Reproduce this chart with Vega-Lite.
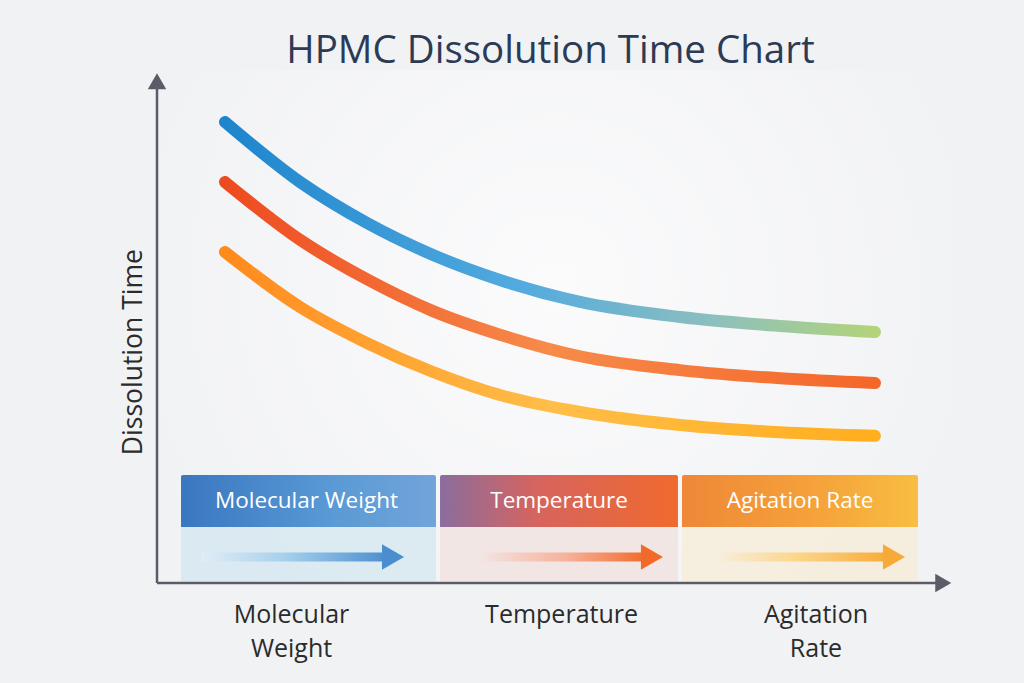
{
  "$schema": "https://vega.github.io/schema/vega-lite/v6.json",
  "width": 795,
  "height": 513,
  "autosize": {"type": "none"},
  "padding": {"left": 157, "top": 70, "right": 72, "bottom": 100},
  "background": "#F1F2F4",
  "config": {
    "font": "Open Sans",
    "view": {"stroke": null, "fill": {"gradient": "radial", "x1": 0.5, "y1": 0.45, "r1": 0, "x2": 0.5, "y2": 0.45, "r2": 0.55, "stops": [{"offset": 0, "color": "#FBFBFC"}, {"offset": 1, "color": "#F1F2F4"}]}}
  },
  "resolve": {"scale": {"color": "independent"}},
  "title": {
    "text": "HPMC Dissolution Time Chart",
    "font": "Open Sans",
    "fontSize": 38.5,
    "fontWeight": 500,
    "color": "#2D3A55",
    "anchor": "middle",
    "baseline": "alphabetic",
    "offset": 7,
    "dx": -4,
    "dy": 38
  },
  "datasets": {
    "curves": [
      {"series": "A", "x": 8.55, "y": 89.86},
      {"series": "A", "x": 17.99, "y": 78.17},
      {"series": "A", "x": 26.42, "y": 70.18},
      {"series": "A", "x": 34.72, "y": 63.94},
      {"series": "A", "x": 43.14, "y": 59.06},
      {"series": "A", "x": 53.21, "y": 54.78},
      {"series": "A", "x": 65.79, "y": 51.85},
      {"series": "A", "x": 78.36, "y": 50.1},
      {"series": "A", "x": 90.31, "y": 48.93},
      {"series": "B", "x": 8.55, "y": 78.17},
      {"series": "B", "x": 17.99, "y": 66.9},
      {"series": "B", "x": 26.42, "y": 59.2},
      {"series": "B", "x": 34.72, "y": 53.0},
      {"series": "B", "x": 43.14, "y": 48.4},
      {"series": "B", "x": 53.21, "y": 44.2},
      {"series": "B", "x": 65.79, "y": 41.5},
      {"series": "B", "x": 78.36, "y": 39.9},
      {"series": "B", "x": 90.31, "y": 38.99},
      {"series": "C", "x": 8.55, "y": 64.52},
      {"series": "C", "x": 17.99, "y": 53.8},
      {"series": "C", "x": 26.42, "y": 46.78},
      {"series": "C", "x": 34.72, "y": 41.13},
      {"series": "C", "x": 43.14, "y": 36.65},
      {"series": "C", "x": 53.21, "y": 33.33},
      {"series": "C", "x": 65.79, "y": 30.8},
      {"series": "C", "x": 78.36, "y": 29.4},
      {"series": "C", "x": 90.31, "y": 28.7}
    ],
    "factors": [
      {"factor": "Molecular Weight", "label": "Molecular\nWeight", "x0": 3.02, "x1": 35.09, "mid": 18.8, "a0": 5.53, "a1": 29.0, "ah": 29.69, "lx": 16.92},
      {"factor": "Temperature", "label": "Temperature", "x0": 35.6, "x1": 65.53, "mid": 50.57, "a0": 40.88, "a1": 61.6, "ah": 62.26, "lx": 50.89},
      {"factor": "Agitation Rate", "label": "Agitation\nRate", "x0": 66.04, "x1": 95.72, "mid": 80.88, "a0": 70.94, "a1": 92.0, "ah": 92.7, "lx": 82.89}
    ],
    "axes": [
      {"axis": "x", "x0": 0, "x1": 98.2, "y0": 0, "y1": 0, "hx": 98.9, "hy": 0, "shape": "triangle-right"},
      {"axis": "y", "x0": 0, "x1": 0, "y0": 0, "y1": 96.5, "hx": 0, "hy": 97.8, "shape": "triangle-up"}
    ],
    "ytitle": [{"text": "Dissolution Time", "x": -2.9, "y": 45.0}]
  },
  "layer": [
    {
      "data": {"name": "factors"},
      "mark": {"type": "rect", "opacity": 0.85},
      "encoding": {
        "x": {"field": "x0", "type": "quantitative", "scale": {"domain": [0, 100]}, "axis": null},
        "x2": {"field": "x1"},
        "y": {"datum": 0.3, "type": "quantitative", "scale": {"domain": [0, 100]}, "axis": null},
        "y2": {"datum": 10.92},
        "color": {"field": "factor", "type": "nominal", "legend": null, "scale": {"domain": ["Molecular Weight", "Temperature", "Agitation Rate"], "range": ["#D7E7F1", "#F1E3E1", "#F6ECD9"]}}
      }
    },
    {
      "data": {"name": "factors"},
      "transform": [{"filter": "datum.factor === 'Molecular Weight'"}],
      "mark": {"type": "rect", "cornerRadiusTopLeft": 2, "cornerRadiusTopRight": 2, "fill": {"gradient": "linear", "x1": 0, "y1": 0, "x2": 1, "y2": 0, "stops": [{"offset": 0, "color": "#3A77C1"}, {"offset": 0.6, "color": "#5A9AD5"}, {"offset": 1, "color": "#72A4DA"}]}},
      "encoding": {
        "x": {"field": "x0", "type": "quantitative", "scale": {"domain": [0, 100]}, "axis": null},
        "x2": {"field": "x1"},
        "y": {"datum": 10.92, "type": "quantitative", "scale": {"domain": [0, 100]}, "axis": null},
        "y2": {"datum": 21.05}
      }
    },
    {
      "data": {"name": "factors"},
      "transform": [{"filter": "datum.factor === 'Temperature'"}],
      "mark": {"type": "rect", "cornerRadiusTopLeft": 2, "cornerRadiusTopRight": 2, "fill": {"gradient": "linear", "x1": 0, "y1": 0, "x2": 1, "y2": 0, "stops": [{"offset": 0, "color": "#8A6D9E"}, {"offset": 0.4, "color": "#D6645F"}, {"offset": 1, "color": "#F06A2E"}]}},
      "encoding": {
        "x": {"field": "x0", "type": "quantitative", "scale": {"domain": [0, 100]}, "axis": null},
        "x2": {"field": "x1"},
        "y": {"datum": 10.92, "type": "quantitative", "scale": {"domain": [0, 100]}, "axis": null},
        "y2": {"datum": 21.05}
      }
    },
    {
      "data": {"name": "factors"},
      "transform": [{"filter": "datum.factor === 'Agitation Rate'"}],
      "mark": {"type": "rect", "cornerRadiusTopLeft": 2, "cornerRadiusTopRight": 2, "fill": {"gradient": "linear", "x1": 0, "y1": 0, "x2": 1, "y2": 0, "stops": [{"offset": 0, "color": "#EF8738"}, {"offset": 0.6, "color": "#F5A43A"}, {"offset": 1, "color": "#F8BE42"}]}},
      "encoding": {
        "x": {"field": "x0", "type": "quantitative", "scale": {"domain": [0, 100]}, "axis": null},
        "x2": {"field": "x1"},
        "y": {"datum": 10.92, "type": "quantitative", "scale": {"domain": [0, 100]}, "axis": null},
        "y2": {"datum": 21.05}
      }
    },
    {
      "data": {"name": "factors"},
      "mark": {"type": "text", "color": "#FFFFFF", "fontSize": 22.5, "font": "Open Sans", "align": "center", "baseline": "middle"},
      "encoding": {
        "x": {"field": "mid", "type": "quantitative", "scale": {"domain": [0, 100]}, "axis": null},
        "y": {"datum": 15.9, "type": "quantitative", "scale": {"domain": [0, 100]}, "axis": null},
        "text": {"field": "factor"}
      }
    },
    {
      "data": {"name": "factors"},
      "transform": [{"filter": "datum.factor === 'Molecular Weight'"}],
      "mark": {"type": "rect", "fill": {"gradient": "linear", "x1": 0, "y1": 0, "x2": 1, "y2": 0, "stops": [{"offset": 0, "color": "#E2EDF5"}, {"offset": 0.45, "color": "#A6D0EC"}, {"offset": 1, "color": "#4A8ED0"}]}},
      "encoding": {
        "x": {"field": "a0", "type": "quantitative", "scale": {"domain": [0, 100]}, "axis": null},
        "x2": {"field": "a1"},
        "y": {"datum": 4.2, "type": "quantitative", "scale": {"domain": [0, 100]}, "axis": null},
        "y2": {"datum": 5.95}
      }
    },
    {
      "data": {"name": "factors"},
      "transform": [{"filter": "datum.factor === 'Temperature'"}],
      "mark": {"type": "rect", "fill": {"gradient": "linear", "x1": 0, "y1": 0, "x2": 1, "y2": 0, "stops": [{"offset": 0, "color": "#F3E4E2"}, {"offset": 0.5, "color": "#F6B39C"}, {"offset": 1, "color": "#F26A2A"}]}},
      "encoding": {
        "x": {"field": "a0", "type": "quantitative", "scale": {"domain": [0, 100]}, "axis": null},
        "x2": {"field": "a1"},
        "y": {"datum": 4.2, "type": "quantitative", "scale": {"domain": [0, 100]}, "axis": null},
        "y2": {"datum": 5.95}
      }
    },
    {
      "data": {"name": "factors"},
      "transform": [{"filter": "datum.factor === 'Agitation Rate'"}],
      "mark": {"type": "rect", "fill": {"gradient": "linear", "x1": 0, "y1": 0, "x2": 1, "y2": 0, "stops": [{"offset": 0, "color": "#F7EDDA"}, {"offset": 0.45, "color": "#FCD68C"}, {"offset": 1, "color": "#F8AA38"}]}},
      "encoding": {
        "x": {"field": "a0", "type": "quantitative", "scale": {"domain": [0, 100]}, "axis": null},
        "x2": {"field": "a1"},
        "y": {"datum": 4.2, "type": "quantitative", "scale": {"domain": [0, 100]}, "axis": null},
        "y2": {"datum": 5.95}
      }
    },
    {
      "data": {"name": "factors"},
      "mark": {"type": "point", "shape": "triangle-right", "filled": true, "opacity": 1, "size": 650},
      "encoding": {
        "x": {"field": "ah", "type": "quantitative", "scale": {"domain": [0, 100]}, "axis": null},
        "y": {"datum": 5.07, "type": "quantitative", "scale": {"domain": [0, 100]}, "axis": null},
        "color": {"field": "factor", "type": "nominal", "legend": null, "scale": {"domain": ["Molecular Weight", "Temperature", "Agitation Rate"], "range": ["#4A8ED0", "#F26A2A", "#F8AA38"]}}
      }
    },
    {
      "data": {"name": "axes"},
      "mark": {"type": "rule", "color": "#5A5C67", "strokeWidth": 2.5},
      "encoding": {
        "x": {"field": "x0", "type": "quantitative", "scale": {"domain": [0, 100]}, "axis": null},
        "x2": {"field": "x1"},
        "y": {"field": "y0", "type": "quantitative", "scale": {"domain": [0, 100]}, "axis": null},
        "y2": {"field": "y1"}
      }
    },
    {
      "data": {"name": "axes"},
      "mark": {"type": "point", "filled": true, "opacity": 1, "color": "#5A5C67", "size": 340},
      "encoding": {
        "x": {"field": "hx", "type": "quantitative", "scale": {"domain": [0, 100]}, "axis": null},
        "y": {"field": "hy", "type": "quantitative", "scale": {"domain": [0, 100]}, "axis": null},
        "shape": {"field": "shape", "type": "nominal", "legend": null, "scale": {"domain": ["triangle-right", "triangle-up"], "range": ["triangle-right", "triangle-up"]}}
      }
    },
    {
      "data": {"name": "ytitle"},
      "mark": {"type": "text", "angle": 270, "color": "#2B2B2B", "fontSize": 26.5, "font": "Open Sans", "align": "center", "baseline": "middle"},
      "encoding": {
        "x": {"field": "x", "type": "quantitative", "scale": {"domain": [0, 100]}, "axis": null},
        "y": {"field": "y", "type": "quantitative", "scale": {"domain": [0, 100]}, "axis": null},
        "text": {"field": "text"}
      }
    },
    {
      "data": {"name": "curves"},
      "transform": [{"filter": "datum.series === 'A'"}],
      "mark": {"type": "line", "interpolate": "monotone", "strokeWidth": 12, "strokeCap": "round", "stroke": {"gradient": "linear", "x1": 0, "y1": 0, "x2": 1, "y2": 0, "stops": [{"offset": 0, "color": "#1E85CC"}, {"offset": 0.45, "color": "#52AADF"}, {"offset": 0.75, "color": "#8CBFBF"}, {"offset": 1, "color": "#B3D479"}]}},
      "encoding": {
        "x": {"field": "x", "type": "quantitative", "scale": {"domain": [0, 100]}, "axis": null},
        "y": {"field": "y", "type": "quantitative", "scale": {"domain": [0, 100]}, "axis": null}
      }
    },
    {
      "data": {"name": "curves"},
      "transform": [{"filter": "datum.series === 'B'"}],
      "mark": {"type": "line", "interpolate": "monotone", "strokeWidth": 12, "strokeCap": "round", "stroke": {"gradient": "linear", "x1": 0, "y1": 0, "x2": 1, "y2": 0, "stops": [{"offset": 0, "color": "#EE4A20"}, {"offset": 0.5, "color": "#F78B4A"}, {"offset": 1, "color": "#F4662A"}]}},
      "encoding": {
        "x": {"field": "x", "type": "quantitative", "scale": {"domain": [0, 100]}, "axis": null},
        "y": {"field": "y", "type": "quantitative", "scale": {"domain": [0, 100]}, "axis": null}
      }
    },
    {
      "data": {"name": "curves"},
      "transform": [{"filter": "datum.series === 'C'"}],
      "mark": {"type": "line", "interpolate": "monotone", "strokeWidth": 12, "strokeCap": "round", "stroke": {"gradient": "linear", "x1": 0, "y1": 0, "x2": 1, "y2": 0, "stops": [{"offset": 0, "color": "#FF8A1E"}, {"offset": 0.5, "color": "#FFBE48"}, {"offset": 1, "color": "#FFAE1E"}]}},
      "encoding": {
        "x": {"field": "x", "type": "quantitative", "scale": {"domain": [0, 100]}, "axis": null},
        "y": {"field": "y", "type": "quantitative", "scale": {"domain": [0, 100]}, "axis": null}
      }
    },
    {
      "data": {"name": "factors"},
      "mark": {"type": "text", "color": "#2B2B2B", "fontSize": 25, "font": "Open Sans", "align": "center", "baseline": "alphabetic", "lineBreak": "\n", "lineHeight": 34},
      "encoding": {
        "x": {"field": "lx", "type": "quantitative", "scale": {"domain": [0, 100]}, "axis": null},
        "y": {"datum": -7.8, "type": "quantitative", "scale": {"domain": [0, 100]}, "axis": null},
        "text": {"field": "label"}
      }
    }
  ]
}
